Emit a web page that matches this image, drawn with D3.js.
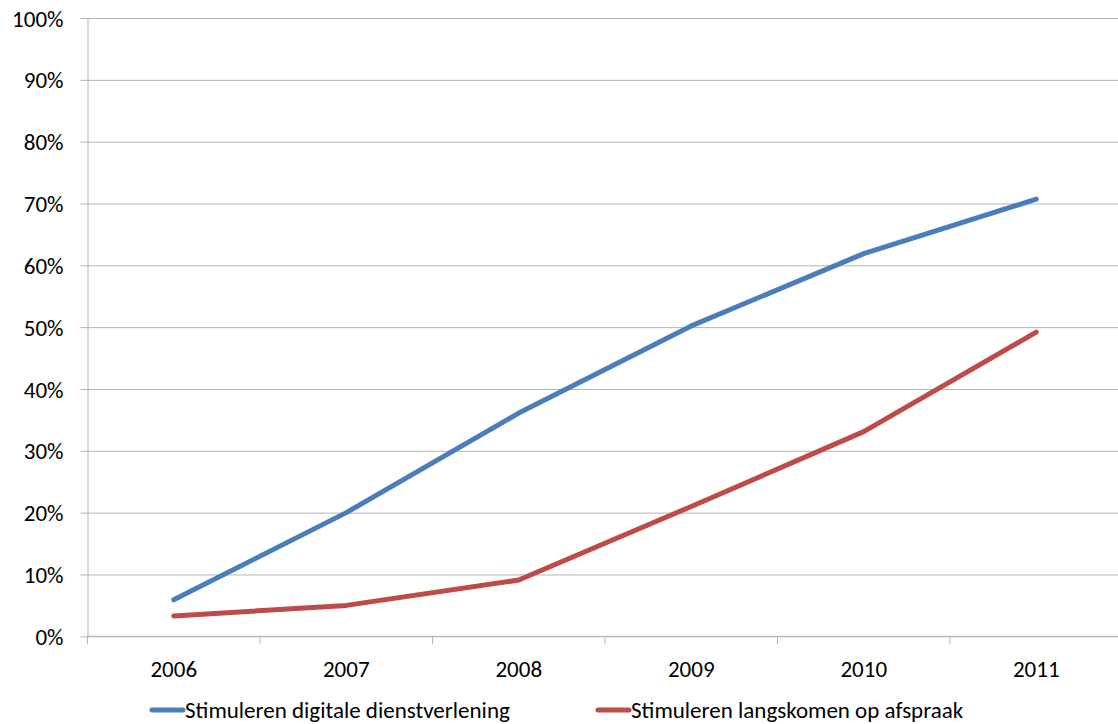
<!DOCTYPE html>
<html>
<head>
<meta charset="utf-8">
<script src="https://cdn.jsdelivr.net/npm/d3@7"></script>
<style>
  html, body { margin: 0; padding: 0; background: #fff; }
  svg { display: block; font-family: Carlito, Calibri, Lato, "Open Sans", sans-serif; }
</style>
</head>
<body>
<svg id="chart" width="1118" height="724"></svg>
<script>
// Years on the category axis
const years = ["2006", "2007", "2008", "2009", "2010", "2011"];

// Share per year (percent)
const digitaleDienstverlening = [5.9, 20.0, 36.1, 50.2, 61.9, 70.7];
const langskomenOpAfspraak = [3.3, 5.0, 9.1, 21.0, 33.1, 49.2];

// Series names and colours
const seriesNames = ["Stimuleren digitale dienstverlening", "Stimuleren langskomen op afspraak"];
const seriesColors = ["#4a7ebb", "#be4b48"];

// Value axis ticks
const yTicks = [0, 10, 20, 30, 40, 50, 60, 70, 80, 90, 100];

const svg = d3.select("#chart");
const plotLeft = 87.5, plotRight = 1122.5, plotTop = 18, plotBottom = 636.3;

const x = d3.scaleBand().domain(years).range([plotLeft, plotRight]).padding(0);
const y = d3.scaleLinear().domain([0, 100]).range([plotBottom, plotTop]);

const gridColor = "#b4b4b4";

// Horizontal gridlines with short outer ticks
const yAxis = d3.axisLeft(y)
  .tickValues(yTicks)
  .tickSize(-(plotRight - plotLeft))
  .tickSizeOuter(0)
  .tickPadding(18)
  .tickFormat(d => d + "%");

const gy = svg.append("g").attr("transform", `translate(${plotLeft},0)`).call(yAxis);
gy.attr("font-family", null).attr("font-size", null);
gy.select(".domain").attr("stroke", gridColor);
gy.selectAll(".tick line").attr("stroke", gridColor).attr("x1", -7);
gy.selectAll(".tick text")
  .attr("fill", "#000")
  .attr("font-size", 23)
  .attr("x", -24)
  .attr("dy", "0.35em");

// Category axis: ticks between categories
const gx = svg.append("g").attr("transform", `translate(0,${plotBottom})`);
gx.append("line").attr("x1", plotLeft).attr("x2", plotRight).attr("stroke", gridColor);
const boundaries = years.map(d => x(d)).concat([x(years[years.length - 1]) + x.bandwidth()]);
gx.selectAll("line.tk").data(boundaries).enter().append("line")
  .attr("class", "tk")
  .attr("x1", d => d).attr("x2", d => d)
  .attr("y1", 0).attr("y2", 8)
  .attr("stroke", gridColor);
gx.selectAll("text").data(years).enter().append("text")
  .attr("x", d => x(d) + x.bandwidth() / 2)
  .attr("y", 41)
  .attr("text-anchor", "middle")
  .attr("font-size", 23)
  .attr("fill", "#000")
  .text(d => d);

// Series lines
const line = d3.line()
  .x((d, i) => x(years[i]) + x.bandwidth() / 2)
  .y(d => y(d));

[digitaleDienstverlening, langskomenOpAfspraak].forEach((vals, k) => {
  svg.append("path")
    .datum(vals)
    .attr("d", line)
    .attr("fill", "none")
    .attr("stroke", seriesColors[k])
    .attr("stroke-width", 5)
    .attr("stroke-linecap", "round")
    .attr("stroke-linejoin", "round");
});

// Legend
const legendX = [152, 598];
const legend = svg.append("g");
seriesNames.forEach((name, k) => {
  const g = legend.append("g").attr("transform", `translate(${legendX[k]},710)`);
  g.append("line")
    .attr("x1", 0).attr("x2", 31)
    .attr("stroke", seriesColors[k])
    .attr("stroke-width", 5)
    .attr("stroke-linecap", "round");
  g.append("text")
    .attr("x", 33)
    .attr("y", 0)
    .attr("dy", "0.35em")
    .attr("font-size", 23)
    .attr("fill", "#000")
    .text(name);
});
</script>
</body>
</html>
